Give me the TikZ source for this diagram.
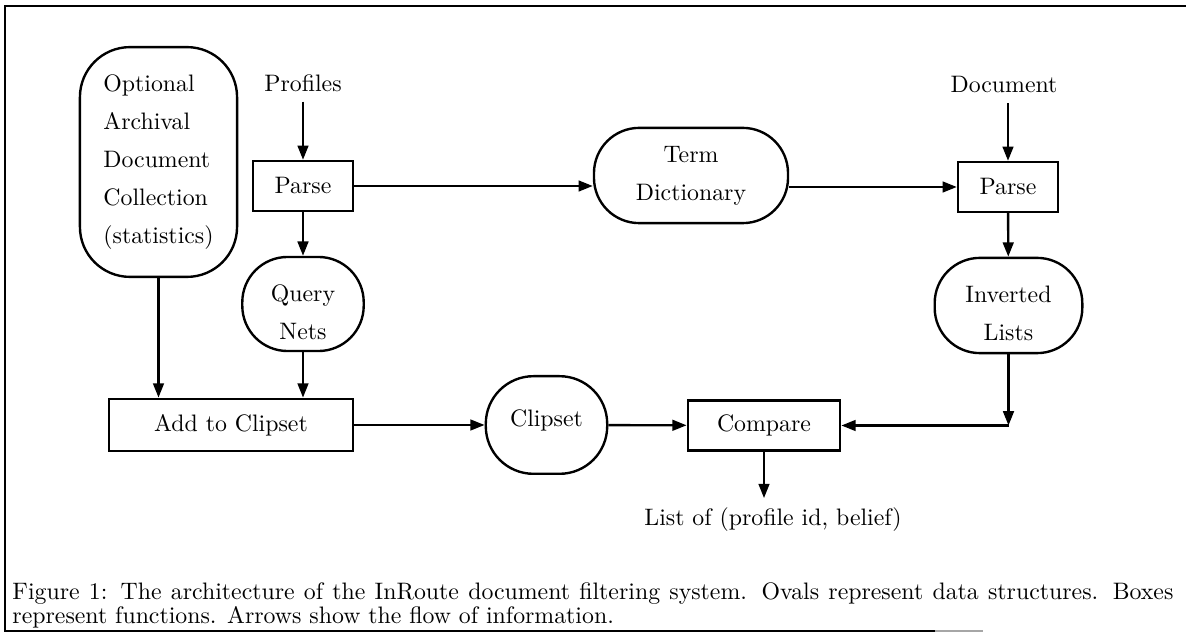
\documentclass[tikz,border=0pt]{standalone}
\usetikzlibrary{arrows.meta,calc}
\begin{document}
\begin{tikzpicture}[x=0.42pt,y=-0.42pt,
  every node/.style={font=\fontsize{10}{16}\selectfont, inner sep=0pt},
  funcbox/.style={draw, line width=1pt, minimum height=21pt},
  oval/.style={draw, line width=1pt, rounded corners=19pt, align=center},
  arr/.style={line width=1pt, -{Triangle[length=6pt,width=4.5pt]}},
  frameline/.style={line width=0.9pt}
]
\useasboundingbox (0,0) rectangle (1186,635);

% frame
\draw[frameline] (1186,6) -- (5,6) -- (5,631) -- (935,631);
\draw[frameline, black!35] (935,631) -- (983,631);

% nodes
\node[oval, minimum width=66pt, minimum height=96.5pt, rounded corners=21pt, align=left] (arch) at (158.5,162)
  {Optional\\Archival\\Document\\Collection\\(statistics)};
\node (prof) at (303,83) {Profiles};
\node[funcbox, minimum width=42pt] (parse1) at (303,186) {Parse};
\node[oval, minimum width=51pt, minimum height=39.5pt] (query) at (303,304) {};
\node[align=center] (querytxt) at (303,312) {Query\\Nets};
\node[funcbox, minimum width=102.5pt, minimum height=22pt] (add) at (231,425) {Add to Clipset};
\node[oval, minimum width=51pt, minimum height=41pt, rounded corners=20pt] (clip) at (546.5,425) {};
\node (cliptxt) at (546.5,420) {Clipset};
\node[funcbox, minimum width=64pt] (cmp) at (764,425.5) {Compare};
\node (list) at (773,520) {List of (profile id, belief)};
\node[oval, minimum width=81.5pt, minimum height=40pt] (term) at (691,175.5) {Term\\Dictionary};
\node (doc) at (1004,85) {Document};
\node[funcbox, minimum width=42pt] (parse2) at (1008,187) {Parse};
\node[oval, minimum width=62pt, minimum height=40pt] (inv) at (1008.5,305.5) {};
\node[align=center] (invtxt) at (1008.5,313) {Inverted\\Lists};
\coordinate (corner) at (inv.south |- cmp.east);

% connectors
\draw[arr, shorten <=4pt] (prof.south -| parse1.north) -- (parse1.north);
\draw[arr] (parse1) -- (query);
\draw[arr] (arch.south) -- (arch.south |- add.north);
\draw[arr] (query.south) -- (query.south |- add.north);
\draw[arr] (add) -- (clip);
\draw[arr] (clip) -- (cmp);
\draw[arr, shorten >=4pt] (cmp.south) -- (cmp.south |- list.north);
\draw[arr] (parse1.east) -- (parse1.east -| term.west);
\draw[arr] (parse2.west -| term.east) -- (parse2.west);
\draw[arr, shorten <=4pt] (doc.south -| parse2.north) -- (parse2.north);
\draw[arr] (parse2) -- (inv);
\draw[arr] (inv.south) -- (corner);
\draw[arr] (corner) -- (cmp.east);

% caption
\node[anchor=north west, align=left, font=\fontsize{10}{9}\selectfont] (cap) at (12,582)
  {\makebox[487.6pt][s]{Figure 1: The architecture of the InRoute document filtering system. Ovals represent data structures. Boxes}\\
   represent functions. Arrows show the flow of information.};
\end{tikzpicture}
\end{document}
